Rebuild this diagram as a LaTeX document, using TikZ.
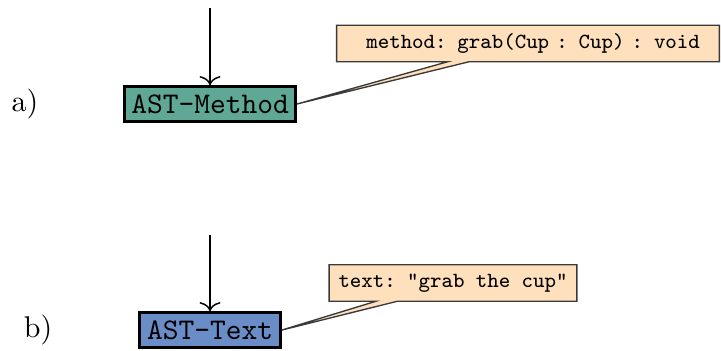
\documentclass[tikz,border=0pt]{standalone}
\usetikzlibrary{shapes.callouts,arrows.meta}
\definecolor{methodfill}{HTML}{5FA896}
\definecolor{textfill}{HTML}{6A8DC8}
\definecolor{notefill}{HTML}{FFE0BD}
\definecolor{notedraw}{HTML}{3A3A3A}
\newcommand\myNoteFont{\fontsize{7.2}{8.6}\selectfont\ttfamily\spaceskip 0.525em\xspaceskip 0.525em\relax}
\begin{document}
\begin{tikzpicture}[x=0.33333pt,y=-0.33333pt,
  astbox/.style={draw=black, line width=1pt, font=\fontsize{10}{12}\selectfont\ttfamily, inner sep=0pt, minimum height=11.6pt},
  note/.style={rectangle callout, draw=notedraw, fill=notefill, line width=0.45pt, font=\myNoteFont, inner ysep=0pt, minimum height=12.2pt},
  feed/.style={draw, line width=0.5pt, -{To[length=3pt,width=7pt]}},
  caselabel/.style={font=\fontsize{10}{12}\selectfont}]
\useasboundingbox (0,0) rectangle (721,350);
\node[astbox, fill=methodfill, minimum width=57pt] (amethod) at (210,104) {AST-Method};
\node[astbox, fill=textfill, minimum width=47pt] (atext) at (210,330) {AST-Text};
\coordinate (atop) at (210,8);
\coordinate (btop) at (210,235);
\draw[feed] (atop) -- (amethod.north);
\draw[feed] (btop) -- (atext.north);
\node[note, inner xsep=6.5pt, text width=114.6pt, align=right, callout absolute pointer={(amethod.east)}] (nmethod) at (528,43.5) {method: grab(Cup : Cup) : void};
\node[note, inner xsep=0pt, minimum width=82.6pt, callout absolute pointer={(atext.east)}] (ntext) at (453,283) {text: "grab the cup"};
\node[caselabel] (la) at (25,104) {a)};
\node[caselabel] (lb) at (38,330) {b)};
\end{tikzpicture}
\end{document}
